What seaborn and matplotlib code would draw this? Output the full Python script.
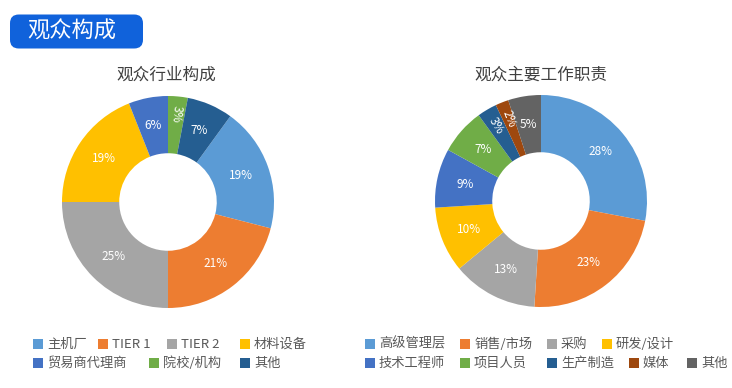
import numpy as np
import matplotlib.pyplot as plt
import seaborn as sns
from matplotlib.patches import FancyBboxPatch, Rectangle

sns.set_theme(style="white")
plt.rcParams['font.family'] = ['Noto Sans CJK SC', 'DejaVu Sans']

# data
industry_labels = ['主机厂', 'TIER 1', 'TIER 2', '材料设备', '贸易商代理商', '院校/机构', '其他']
industry_values = [19, 21, 25, 19, 6, 3, 7]
job_labels = ['高级管理层', '销售/市场', '采购', '研发/设计', '技术工程师', '项目人员', '生产制造', '媒体', '其他']
job_values = [28, 23, 13, 10, 9, 7, 3, 2, 5]

palette = sns.color_palette(['#5B9BD5', '#ED7D31', '#A5A5A5', '#FFC000', '#4472C4',
                             '#70AD47', '#255E91', '#9E480E', '#636363'])

W, H = 732, 388
fig = plt.figure(figsize=(W / 100, H / 100), dpi=100)


def donut(cx, cy, R, values, colors, start):
    ax = fig.add_axes([(cx - R) / W, (H - cy - R) / H, 2 * R / W, 2 * R / H])
    wedges, texts, autotexts = ax.pie(
        values, colors=colors, startangle=start, counterclock=False,
        radius=1, pctdistance=0.73, autopct=lambda p: f'{p:.0f}%',
        wedgeprops=dict(width=0.54, linewidth=0),
        textprops=dict(color='white', fontsize=8.5))
    for w, t, v in zip(wedges, autotexts, values):
        if v <= 3:
            # thin slices: radial label, nearer the outer edge
            mid = (w.theta1 + w.theta2) / 2
            a = np.deg2rad(mid)
            t.set_position((0.83 * np.cos(a), 0.83 * np.sin(a)))
            t.set_rotation(mid + 180)
            t.set_ha('center')
            t.set_va('center')
    ax.set_xlim(-1, 1)
    ax.set_ylim(-1, 1)
    return ax


donut(168, 202, 106, industry_values, palette[:7], 54)
donut(541, 201, 106, job_values, palette[:9], 90)

# titles
fig.text(166 / W, 1 - 75 / H, '观众行业构成', ha='center', va='center', fontsize=12, color='#404040')
fig.text(541 / W, 1 - 75 / H, '观众主要工作职责', ha='center', va='center', fontsize=12, color='#404040')

# header tab
fig.patches.append(FancyBboxPatch((10 / W, 1 - 48.5 / H), 133 / W, 34 / H,
                                  boxstyle='round,pad=0,rounding_size=0.012',
                                  transform=fig.transFigure, facecolor='#1062DB',
                                  edgecolor='none', mutation_aspect=W / H))
fig.text(72 / W, 1 - 31 / H, '观众构成', ha='center', va='center', fontsize=16, color='white')


def legend_item(x, y, label, color):
    fig.patches.append(Rectangle((x / W, 1 - (y + 5) / H), 10 / W, 10 / H,
                                 transform=fig.transFigure, facecolor=color, edgecolor='none'))
    fig.text((x + 14) / W, 1 - y / H, label, ha='left', va='center', fontsize=9.5, color='#595959')


left_pos = [(33, 344), (98, 344), (167, 344), (240, 344), (33, 363), (149, 363), (240, 363)]
for (x, y), lab, col in zip(left_pos, industry_labels, palette[:7]):
    legend_item(x, y, lab, col)

right_pos = [(365, 344), (460, 344), (547, 344), (602, 344),
             (365, 363), (460, 363), (547, 363), (629, 363), (687, 363)]
for (x, y), lab, col in zip(right_pos, job_labels, palette[:9]):
    legend_item(x, y, lab, col)

fig.savefig('out.png', dpi=100)
